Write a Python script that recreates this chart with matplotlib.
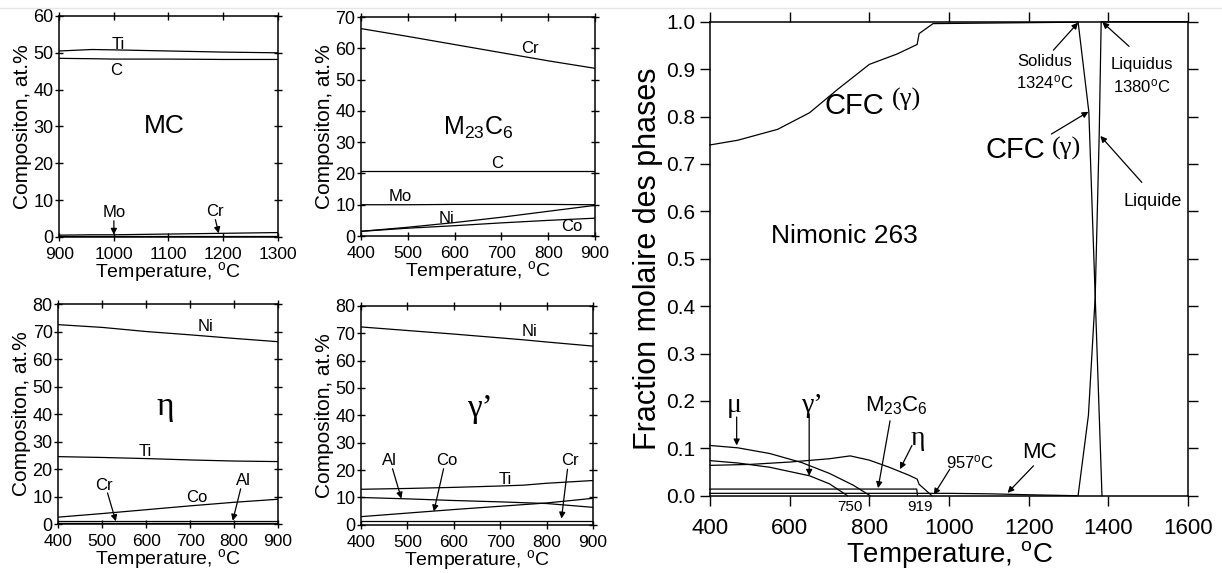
import matplotlib
matplotlib.use('Agg')
import matplotlib.pyplot as plt
from matplotlib.lines import Line2D

plt.rcParams['font.family'] = ['Liberation Sans', 'DejaVu Sans']
plt.rcParams['mathtext.default'] = 'regular'

# ---- data ----
# MC carbide composition (at.%)
mc_T = [900, 960, 1000, 1100, 1200, 1300]
mc_Ti = [50.5, 50.9, 50.8, 50.5, 50.2, 50.0]
mc_C = [48.5, 48.4, 48.3, 48.3, 48.2, 48.2]
mc_Mo = [0.3, 0.3, 0.3, 0.3, 0.3, 0.3]
mc_Cr = [0.5, 0.6, 0.6, 0.8, 1.0, 1.2]

# M23C6 composition
m23_T = [400, 500, 600, 700, 800, 900]
m23_Cr = [66.3, 63.8, 61.2, 58.6, 56.0, 53.6]
m23_C = [20.7, 20.7, 20.7, 20.7, 20.7, 20.7]
m23_Mo = [10.0, 10.0, 10.1, 10.1, 10.1, 10.0]
m23_Ni = [1.5, 2.8, 4.3, 6.0, 7.9, 9.8]
m23_Co = [1.5, 2.5, 3.3, 4.2, 5.0, 5.7]

# eta composition
eta_T = [400, 500, 600, 700, 800, 900]
eta_Ni = [72.5, 71.5, 70.0, 68.8, 67.5, 66.3]
eta_Ti = [24.5, 24.2, 23.8, 23.3, 22.9, 22.7]
eta_Co = [2.5, 3.8, 5.2, 6.6, 7.9, 9.0]
eta_Al = [1.0, 1.0, 1.0, 1.0, 1.0, 1.0]
eta_Cr = [0.4, 0.4, 0.4, 0.4, 0.4, 0.4]

# gamma prime composition
gp_T = [400, 500, 600, 700, 750, 800, 900]
gp_Ni = [72.3, 71.0, 69.7, 68.3, 67.6, 66.8, 65.3]
gp_Ti = [13.0, 13.3, 13.7, 14.2, 14.5, 15.2, 16.2]
gp_Al = [10.0, 9.5, 8.9, 8.4, 8.1, 7.8, 6.4]
gp_Co = [3.0, 4.3, 5.6, 6.8, 7.4, 8.0, 9.7]
gp_Cr = [1.5, 1.5, 1.5, 1.5, 1.5, 1.5, 1.5]

# phase fractions, Nimonic 263
cfc_T = [400, 470, 570, 650, 720, 800, 870, 920, 925, 960, 1320, 1324, 1351, 1367, 1384]
cfc_f = [0.740, 0.750, 0.773, 0.808, 0.857, 0.910, 0.932, 0.952, 0.975, 0.996, 0.999, 1.0, 0.81, 0.42, 0.0]
liq_T = [1324, 1350, 1367, 1377, 1382, 1600]
liq_f = [0.0, 0.17, 0.42, 0.76, 1.0, 1.0]
mu_T = [400, 470, 550, 630, 700, 760, 802]
mu_f = [0.106, 0.101, 0.089, 0.070, 0.047, 0.022, 0.0]
gpf_T = [400, 470, 550, 650, 700, 745]
gpf_f = [0.074, 0.069, 0.060, 0.042, 0.025, 0.0]
etaf_T = [400, 500, 600, 700, 752, 800, 850, 900, 920, 925, 957]
etaf_f = [0.064, 0.066, 0.071, 0.078, 0.084, 0.075, 0.060, 0.043, 0.035, 0.024, 0.0]
m23f_T = [400, 919, 921]
m23f_f = [0.014, 0.014, 0.0]
mcf_T = [400, 1000, 1100, 1200, 1320]
mcf_f = [0.005, 0.005, 0.004, 0.002, 0.0]

fig = plt.figure(figsize=(12.22, 5.73), dpi=100)
fig.add_artist(Line2D([0, 1], [0.986, 0.986], color='#e6e6e6', lw=1))

LW = 0.9
arrow_kw = dict(arrowstyle='-|>', color='k', lw=0.9, mutation_scale=9, shrinkA=0, shrinkB=0)


def small_axes(rect, xlim, ylim, xticks, yticks):
    ax = fig.add_axes(rect)
    ax.set_xlim(*xlim)
    ax.set_ylim(*ylim)
    ax.set_xticks(xticks)
    ax.set_yticks(yticks)
    ax.tick_params(direction='inout', length=6, width=1, top=True, right=True, labelsize=13, pad=1)
    ax.tick_params(axis='x', pad=4, labelsize=12.5)
    for s in ax.spines.values():
        s.set_linewidth(1.1)
    ax.set_xlabel('Temperature, $^{o}$C', fontsize=14, labelpad=-1)
    ax.set_ylabel('Compositon, at.%', fontsize=15, labelpad=1)
    return ax


def arrow(ax, start, tip):
    ax.annotate('', xy=tip, xytext=start, arrowprops=arrow_kw)


# MC
ax1 = small_axes([0.0485, 0.5864, 0.1787, 0.3857], (900, 1300), (0, 60),
                 range(900, 1301, 100), range(0, 61, 10))
for y in (mc_Ti, mc_C, mc_Mo, mc_Cr):
    ax1.plot(mc_T, y, color='k', lw=LW)
ax1.text(1008, 52.2, 'Ti', fontsize=12, ha='center', va='center')
ax1.text(1005, 45.3, 'C', fontsize=12, ha='center', va='center')
ax1.text(1092, 30, 'MC', fontsize=19, ha='center', va='center')
ax1.text(1000, 6.6, 'Mo', fontsize=12, ha='center', va='center')
ax1.text(1185, 7.0, 'Cr', fontsize=12, ha='center', va='center')
arrow(ax1, (1000, 4.4), (1000, 0.6))
arrow(ax1, (1186, 4.7), (1192, 1.0))

# M23C6
ax2 = small_axes([0.2954, 0.5881, 0.1915, 0.3822], (400, 900), (0, 70),
                 range(400, 901, 100), range(0, 71, 10))
for y in (m23_Cr, m23_C, m23_Mo, m23_Ni, m23_Co):
    ax2.plot(m23_T, y, color='k', lw=LW)
ax2.text(760, 60, 'Cr', fontsize=12, ha='center', va='center')
ax2.text(651, 34.4, 'M$_{23}$C$_{6}$', fontsize=18, ha='center', va='center')
ax2.text(691, 23.2, 'C', fontsize=12, ha='center', va='center')
ax2.text(483, 12.6, 'Mo', fontsize=12, ha='center', va='center')
ax2.text(583, 5.6, 'Ni', fontsize=12, ha='center', va='center')
ax2.text(850, 3.0, 'Co', fontsize=12, ha='center', va='center')

# eta
ax3 = small_axes([0.0477, 0.0855, 0.1798, 0.3839], (400, 900), (0, 80),
                 range(400, 901, 100), range(0, 81, 10))
for y in (eta_Ni, eta_Ti, eta_Co, eta_Al, eta_Cr):
    ax3.plot(eta_T, y, color='k', lw=LW)
ax3.text(734, 71.8, 'Ni', fontsize=12, ha='center', va='center')
ax3.text(643, 42.5, 'η', fontsize=24, ha='center', va='center', family='Liberation Serif')
ax3.text(597, 26.2, 'Ti', fontsize=12, ha='center', va='center')
ax3.text(715, 9.8, 'Co', fontsize=12, ha='center', va='center')
ax3.text(504, 14.1, 'Cr', fontsize=12, ha='center', va='center')
ax3.text(822, 15.9, 'Al', fontsize=12, ha='center', va='center')
arrow(ax3, (512, 11.3), (531, 1.0))
arrow(ax3, (815, 12.8), (797, 1.2))

# gamma prime
ax4 = small_axes([0.2954, 0.0840, 0.1899, 0.3822], (400, 900), (0, 80),
                 range(400, 901, 100), range(0, 81, 10))
for y in (gp_Ni, gp_Ti, gp_Al, gp_Co, gp_Cr):
    ax4.plot(gp_T, y, color='k', lw=LW)
ax4.text(763, 70.5, 'Ni', fontsize=12, ha='center', va='center')
ax4.text(656, 42.5, 'γ’', fontsize=24, ha='center', va='center', family='Liberation Serif')
ax4.text(462, 23.6, 'Al', fontsize=12, ha='center', va='center')
ax4.text(585, 23.6, 'Co', fontsize=12, ha='center', va='center')
ax4.text(710, 16.5, 'Ti', fontsize=12, ha='center', va='center')
ax4.text(850, 23.5, 'Cr', fontsize=12, ha='center', va='center')
arrow(ax4, (468, 20.5), (487, 9.6))
arrow(ax4, (578, 20.5), (557, 4.9))
arrow(ax4, (845, 20.3), (832, 2.3))

# phase fractions
ax5 = fig.add_axes([0.5810, 0.1349, 0.3912, 0.8272])
ax5.set_xlim(400, 1600)
ax5.set_ylim(0, 1.0)
ax5.set_xticks(range(400, 1601, 200))
ax5.set_yticks([i / 10 for i in range(11)])
ax5.set_yticklabels([f'{i / 10:.1f}' for i in range(11)])
ax5.tick_params(direction='out', length=7, width=1, top=True, right=True,
                labeltop=False, labelright=False, labelsize=15)
ax5.tick_params(axis='x', labelsize=16, pad=9)
for s in ax5.spines.values():
    s.set_linewidth(1.1)
ax5.set_xlabel('Temperature, $^{o}$C', fontsize=20, labelpad=0)
ax5.set_ylabel('Fraction molaire des phases', fontsize=22, labelpad=2)

for t, f in ((cfc_T, cfc_f), (liq_T, liq_f), (mu_T, mu_f), (gpf_T, gpf_f),
             (etaf_T, etaf_f), (m23f_T, m23f_f), (mcf_T, mcf_f)):
    ax5.plot(t, f, color='k', lw=LW, clip_on=False)

ax5.text(687, 0.822, 'CFC', fontsize=21, ha='left', va='center')
ax5.text(857, 0.835, '(γ)', fontsize=19, ha='left', va='center', family='Liberation Serif')
ax5.text(552, 0.547, 'Nimonic 263', fontsize=19, ha='left', va='center')
ax5.text(1240, 0.892, 'Solidus\n1324$^{o}$C', fontsize=12, ha='center', va='center', linespacing=1.3)
ax5.text(1484, 0.885, 'Liquidus\n1380$^{o}$C', fontsize=12, ha='center', va='center', linespacing=1.3)
ax5.text(1092, 0.73, 'CFC', fontsize=21, ha='left', va='center')
ax5.text(1258, 0.733, '(γ)', fontsize=19, ha='left', va='center', family='Liberation Serif')
ax5.text(1437, 0.621, 'Liquide', fontsize=13, ha='left', va='center')
ax5.text(462, 0.19, 'μ', fontsize=20, ha='center', va='center', family='Liberation Serif')
ax5.text(657, 0.19, 'γ’', fontsize=20, ha='center', va='center', family='Liberation Serif')
ax5.text(867, 0.19, 'M$_{23}$C$_{6}$', fontsize=16, ha='center', va='center')
ax5.text(922, 0.12, 'η', fontsize=20, ha='center', va='center', family='Liberation Serif')
ax5.text(1052, 0.07, '957$^{o}$C', fontsize=12, ha='center', va='center')
ax5.text(1227, 0.092, 'MC', fontsize=16, ha='center', va='center')
ax5.text(752, -0.024, '750', fontsize=11, ha='center', va='center', clip_on=False)
ax5.text(927, -0.024, '919', fontsize=11, ha='center', va='center', clip_on=False)

arrow(ax5, (1262, 0.94), (1324, 0.998))
arrow(ax5, (1452, 0.948), (1385, 0.999))
arrow(ax5, (1257, 0.763), (1350, 0.81))
arrow(ax5, (1484, 0.661), (1380, 0.759))
arrow(ax5, (467, 0.166), (467, 0.106))
arrow(ax5, (649, 0.172), (649, 0.042))
arrow(ax5, (852, 0.158), (822, 0.016))
arrow(ax5, (907, 0.106), (877, 0.056))
arrow(ax5, (1002, 0.056), (962, 0.002))
arrow(ax5, (1212, 0.063), (1147, 0.006))

fig.savefig('out.png', dpi=100)
